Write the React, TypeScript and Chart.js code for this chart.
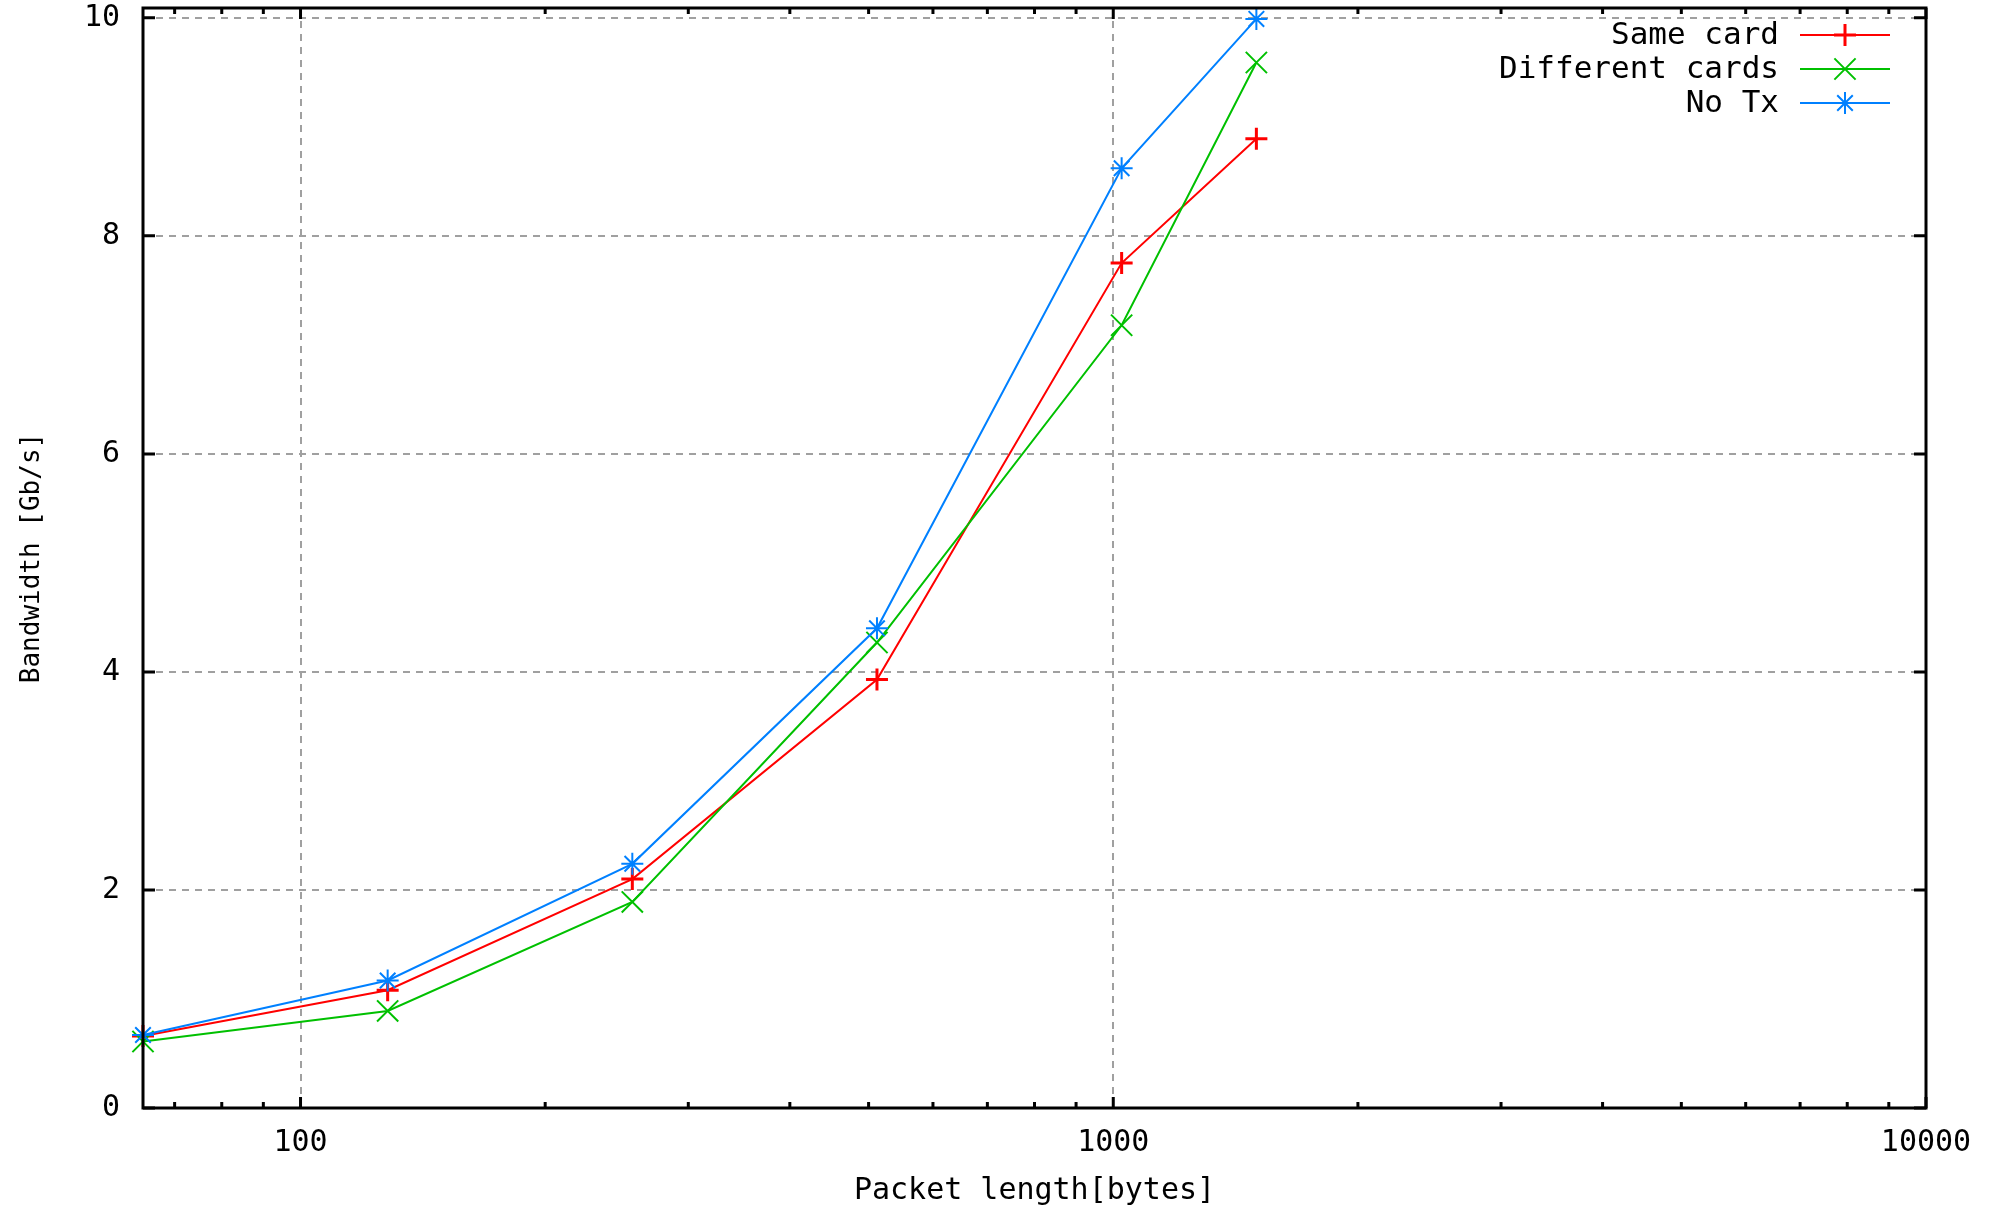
import React, { useEffect, useRef } from 'react';
import { Chart, registerables } from 'chart.js';

Chart.register(...registerables);

// ---- data ----
const packetLengths = [64, 128, 256, 512, 1024, 1500];
const sameCard = [0.66, 1.08, 2.1, 3.93, 7.75, 8.89];
const differentCards = [0.61, 0.89, 1.89, 4.27, 7.18, 9.59];
const noTx = [0.67, 1.17, 2.24, 4.4, 8.62, 9.99];

const seriesLabels = ['Same card', 'Different cards', 'No Tx'];
const xTickValues = [100, 1000, 10000];
const xMinorTickValues = [70, 80, 90, 200, 300, 400, 500, 600, 700, 800, 900, 2000, 3000, 4000, 5000, 6000, 7000, 8000, 9000];
const yTickValues = [0, 2, 4, 6, 8, 10];
const xTitle = 'Packet length[bytes]';
const yTitle = 'Bandwidth [Gb/s]';

// ---- styles ----
const seriesColors = ['#ff0000', '#00c000', '#0080ff'];
const seriesPointStyles = ['cross', 'crossRot', 'star'];
const seriesPointRadius = [11, 15, 11];
const seriesPointBorder = [3, 2, 2];
const FONT = '"DejaVu Sans Mono", monospace';

function drawMarker(ctx: CanvasRenderingContext2D, style: string, x: number, y: number, r: number) {
  ctx.beginPath();
  if (style === 'cross' || style === 'star') {
    ctx.moveTo(x - r, y);
    ctx.lineTo(x + r, y);
    ctx.moveTo(x, y - r);
    ctx.lineTo(x, y + r);
  }
  if (style === 'crossRot' || style === 'star') {
    const d = r * Math.SQRT1_2;
    ctx.moveTo(x - d, y - d);
    ctx.lineTo(x + d, y + d);
    ctx.moveTo(x - d, y + d);
    ctx.lineTo(x + d, y - d);
  }
  ctx.stroke();
}

const framePlugin = {
  id: 'gnuplotFrame',
  afterDatasetsDraw(chart: any) {
    const { ctx, chartArea, scales } = chart;
    const { left, right, top, bottom } = chartArea;
    const xs = scales.x;
    const ys = scales.y;
    ctx.save();
    ctx.strokeStyle = '#000';
    ctx.lineWidth = 3;
    ctx.strokeRect(left, top, right - left, bottom - top);

    ctx.lineWidth = 3;
    ctx.beginPath();
    for (const v of xTickValues) {
      const px = xs.getPixelForValue(v);
      ctx.moveTo(px, bottom);
      ctx.lineTo(px, bottom - 11);
      ctx.moveTo(px, top);
      ctx.lineTo(px, top + 11);
    }
    for (const v of xMinorTickValues) {
      const px = xs.getPixelForValue(v);
      ctx.moveTo(px, bottom);
      ctx.lineTo(px, bottom - 6);
      ctx.moveTo(px, top);
      ctx.lineTo(px, top + 6);
    }
    for (const v of yTickValues) {
      const py = ys.getPixelForValue(v);
      ctx.moveTo(left, py);
      ctx.lineTo(left + 12, py);
      ctx.moveTo(right, py);
      ctx.lineTo(right - 12, py);
    }
    ctx.stroke();

    // legend (top-right, inside the plot)
    const textRight = right - 147;
    const lineStart = right - 126;
    const lineEnd = right - 36;
    const markerX = right - 81;
    ctx.font = `31px ${FONT}`;
    ctx.textAlign = 'right';
    ctx.textBaseline = 'middle';
    chart.data.datasets.forEach((ds: any, i: number) => {
      const rowY = top + 27 + i * 34;
      ctx.fillStyle = '#000';
      ctx.fillText(ds.label, textRight, rowY + 1);
      ctx.strokeStyle = ds.borderColor;
      ctx.lineWidth = 2;
      ctx.beginPath();
      ctx.moveTo(lineStart, rowY);
      ctx.lineTo(lineEnd, rowY);
      ctx.stroke();
      ctx.lineWidth = ds.pointBorderWidth;
      drawMarker(ctx, ds.pointStyle, markerX, rowY, ds.pointRadius);
    });
    ctx.restore();
  },
};

export default function App() {
  const canvasRef = useRef<HTMLCanvasElement | null>(null);

  useEffect(() => {
    const canvas = canvasRef.current;
    if (!canvas) return;
    const seriesValues = [sameCard, differentCards, noTx];
    const drawOrder = [2, 1, 0];
    const chart = new Chart(canvas, {
      type: 'line',
      data: {
        datasets: seriesValues.map((vals, i) => ({
          label: seriesLabels[i],
          data: packetLengths.map((x, j) => ({ x, y: vals[j] })),
          borderColor: seriesColors[i],
          backgroundColor: seriesColors[i],
          borderWidth: 2,
          pointStyle: seriesPointStyles[i],
          pointRadius: seriesPointRadius[i],
          pointBorderWidth: seriesPointBorder[i],
          pointBorderColor: seriesColors[i],
          pointBackgroundColor: seriesColors[i],
          tension: 0,
          fill: false,
          clip: false,
          order: drawOrder[i],
        })) as any,
      },
      options: {
        responsive: false,
        maintainAspectRatio: false,
        devicePixelRatio: 1,
        animation: false,
        layout: { autoPadding: false, padding: { left: 0, right: 71, top: 8, bottom: 0 } },
        plugins: {
          legend: { display: false },
          tooltip: { enabled: false },
        },
        scales: {
          x: {
            type: 'logarithmic',
            min: 64,
            max: 10000,
            afterBuildTicks: (s: any) => {
              s.ticks = xTickValues.map((v) => ({ value: v }));
            },
            afterFit: (s: any) => {
              s.height = 100;
              s.paddingLeft = 0;
              s.paddingRight = 0;
            },
            ticks: {
              autoSkip: false,
              maxRotation: 0,
              padding: 17,
              color: '#000',
              font: { family: FONT, size: 30 },
              callback: (v: any) => String(v),
            },
            grid: { color: '#a0a0a0', lineWidth: 2, drawTicks: false },
            border: { display: false, dash: [7, 6] },
            title: {
              display: true,
              text: xTitle,
              color: '#000',
              font: { family: FONT, size: 30, lineHeight: 1.1 },
              padding: 0,
            },
          },
          y: {
            type: 'linear',
            min: 0,
            max: 10.09,
            afterBuildTicks: (s: any) => {
              s.ticks = yTickValues.map((v) => ({ value: v }));
            },
            afterFit: (s: any) => {
              s.width = 143;
              s.paddingTop = 0;
              s.paddingBottom = 0;
            },
            ticks: {
              padding: 23,
              color: '#000',
              font: { family: FONT, size: 30 },
              callback: (v: any) => String(v),
            },
            grid: { color: '#a0a0a0', lineWidth: 2, drawTicks: false },
            border: { display: false, dash: [7, 6] },
            title: {
              display: true,
              text: yTitle,
              color: '#000',
              font: { family: FONT, size: 26 },
              padding: { top: 17, bottom: 0 },
            },
          },
        },
      } as any,
      plugins: [framePlugin],
    });
    return () => chart.destroy();
  }, []);

  return (
    <div style={{ position: 'fixed', left: 0, top: 0, width: 1997, height: 1208, background: '#fff' }}>
      <canvas ref={canvasRef} width={1997} height={1208} style={{ display: 'block' }} />
    </div>
  );
}
